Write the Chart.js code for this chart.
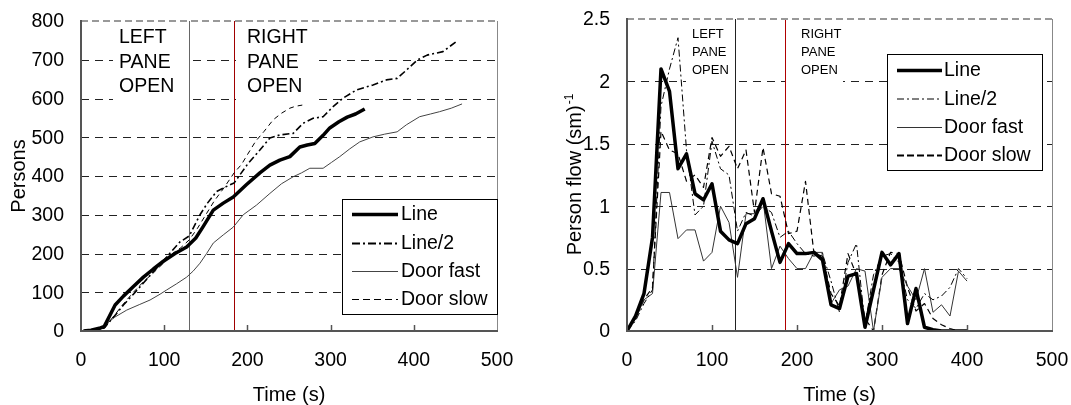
<!DOCTYPE html>
<html><head><meta charset="utf-8">
<script src="https://cdn.jsdelivr.net/npm/chart.js@4.4.1/dist/chart.umd.min.js"></script>
<style>
html,body{margin:0;padding:0;background:#fff;}
#wrap{position:relative;width:1071px;height:405px;overflow:hidden;background:#fff;}
canvas{position:absolute;top:0;}
</style></head><body>
<div id="wrap">
<canvas id="c1" width="540" height="405" style="left:0;width:540px;height:405px"></canvas>
<canvas id="c2" width="531" height="405" style="left:540px;width:531px;height:405px"></canvas>
</div>
<script>
// ---------- DATA: left chart (cumulative persons) ----------
const seriesNames = ['Line', 'Line/2', 'Door fast', 'Door slow'];

const leftLineT = [3, 12, 22, 28, 41, 51, 63, 75, 87, 99, 113, 127, 138, 147, 159, 171, 183, 199, 215, 227, 239, 251, 263, 272, 281, 291, 299, 310, 320, 330, 341];
const leftLineP = [0, 2, 7, 12, 67, 90, 115, 139, 160, 180, 200, 217, 240, 270, 312, 330, 346, 378, 408, 428, 441, 450, 475, 480, 484, 505, 524, 540, 552, 560, 573];

const leftHalfT = [8, 20, 28, 40, 51, 63, 75, 87, 103, 119, 130, 143, 152, 163, 174, 184, 200, 215, 227, 239, 255, 267, 279, 291, 303, 315, 331, 351, 367, 380, 391, 404, 416, 435, 451];
const leftHalfP = [0, 3, 8, 38, 67, 95, 124, 153, 191, 230, 245, 300, 330, 360, 372, 382, 430, 467, 498, 506, 510, 536, 549, 553, 579, 601, 622, 635, 648, 652, 673, 699, 712, 721, 747];

const leftFastT = [10, 20, 26, 40, 55, 70, 83, 95, 103, 115, 127, 135, 143, 151, 159, 171, 183, 195, 211, 227, 241, 255, 265, 275, 291, 301, 311, 323, 335, 351, 365, 380, 391, 407, 420, 431, 445, 458];
const leftFastP = [0, 3, 10, 35, 54, 68, 80, 95, 106, 122, 139, 155, 175, 200, 227, 248, 268, 300, 325, 355, 380, 398, 408, 420, 420, 435, 450, 470, 488, 501, 508, 514, 532, 553, 560, 566, 575, 586];

const leftSlowT = [8, 20, 28, 40, 51, 63, 75, 87, 99, 110, 120, 130, 140, 150, 160, 172, 184, 193, 200, 210, 220, 231, 241, 251, 258, 266];
const leftSlowP = [0, 3, 8, 40, 70, 100, 127, 150, 175, 200, 215, 235, 265, 300, 335, 370, 408, 430, 455, 490, 515, 545, 562, 575, 580, 583];

// ---------- DATA: right chart (person flow) ----------
const rightT = [0,10,20,30,40,50,60,70,80,90,100,110,120,130,140,150,160,170,180,190,200,210,220,230,240,250,260,270,280,290,300,310,320,330,340,350,360,370,380,390,400];
const rightLine = [0, .12, .30, .75, 2.10, 1.92, 1.30, 1.42, 1.10, 1.05, 1.18, 0.80, 0.73, 0.70, 0.86, 0.90, 1.06, 0.80, 0.55, 0.70, 0.62, 0.62, 0.63, 0.57, 0.21, 0.18, 0.44, 0.46, 0.03, 0.33, 0.63, 0.53, 0.62, 0.06, 0.34, 0.03, 0.01, 0, 0, 0, 0];
const rightHalf = [0, .08, .22, .33, 1.80, 2.10, 2.35, 1.45, 0.93, 1.00, 1.52, 1.30, 1.25, 0.80, 0.95, 0.92, 1.00, 0.95, 0.75, 0.80, 0.70, 0.62, 0.60, 0.62, 0.40, 0.15, 0.55, 0.70, 0.05, 0.45, 0.60, 0.62, 0.55, 0.25, 0.18, 0.30, 0.25, 0.28, 0.35, 0.50, 0.42];
const rightFast = [0, .10, .25, .30, 1.11, 1.11, 0.74, 0.81, 0.81, 0.56, 0.63, 1.00, 0.87, 0.43, 0.94, 0.94, 1.05, 0.50, 0.68, 0.58, 0.50, 0.50, 0.63, 0.63, 0.22, 0.33, 0.36, 0.50, 0.48, 0.00, 0.43, 0.50, 0.50, 0.36, 0.25, 0.50, 0.15, 0.21, 0.12, 0.48, 0.40];
const rightSlow = [0, .10, .25, .35, 1.60, 1.45, 1.42, 1.20, 1.25, 1.15, 1.55, 1.40, 1.48, 1.30, 1.45, 0.95, 1.47, 1.10, 1.08, 0.78, 0.80, 1.20, 0.62, 0.60, 0.30, 0.20, 0.62, 0.45, 0.10, 0.00, 0.45, 0.63, 0.62, 0.35, 0.16, 0.22, 0.10, 0.05, 0.02, 0.00, 0.00];

// pane-open markers (time, s)
const leftPaneTimes = [130, 184];
const rightPaneTimes = [127, 186];
const paneTexts = [['LEFT', 'PANE', 'OPEN'], ['RIGHT', 'PANE', 'OPEN']];

const xTickStep = 100;
const leftYMax = 800, leftYStep = 100;
const rightYMax = 2.5, rightYStep = 0.5;

// ---------- helpers ----------
const FONT = '"Liberation Sans", Arial, Helvetica, sans-serif';
function pts(t, v) { return t.map((x, i) => ({ x: x, y: v[i] })); }

const decor = {
  id: 'decor',
  beforeDatasetsDraw(chart, args, o) {
    const ctx = chart.ctx, a = chart.chartArea, xs = chart.scales.x, ys = chart.scales.y;
    ctx.save();
    ys.ticks.forEach(t => {
      if (t.value <= ys.min || t.value >= ys.max) return;
      const y = Math.round(ys.getPixelForValue(t.value)) + 0.5;
      ctx.beginPath(); ctx.setLineDash([8, 6]); ctx.strokeStyle = '#222'; ctx.lineWidth = 1;
      ctx.moveTo(a.left, y); ctx.lineTo(a.right, y); ctx.stroke();
    });
    o.boxes.forEach(b => { ctx.fillStyle = '#fff'; ctx.fillRect(b.x0, a.top + 1, b.x1 - b.x0, b.y1 - a.top); });
    ctx.setLineDash([]);
    ctx.font = o.annFont;
    ctx.fillStyle = '#000'; ctx.textAlign = 'left'; ctx.textBaseline = 'alphabetic';
    o.boxes.forEach((b, i) => {
      paneTexts[i].forEach((s, k) => ctx.fillText(s, b.tx, o.annBase[k]));
    });
    o.vlines.forEach(v => {
      const x = Math.round(xs.getPixelForValue(v.t)) + 0.5;
      ctx.beginPath(); ctx.strokeStyle = v.c; ctx.lineWidth = 1;
      ctx.moveTo(x, a.top); ctx.lineTo(x, a.bottom); ctx.stroke();
    });
    ctx.restore();
  },
  afterDatasetsDraw(chart, args, o) {
    const ctx = chart.ctx, a = chart.chartArea, xs = chart.scales.x, ys = chart.scales.y;
    ctx.save();
    ctx.beginPath(); ctx.setLineDash([7, 4]); ctx.strokeStyle = '#999'; ctx.lineWidth = 2;
    ctx.moveTo(a.left, a.top); ctx.lineTo(a.right, a.top); ctx.stroke();
    ctx.setLineDash([]);
    ctx.beginPath(); ctx.strokeStyle = '#888'; ctx.lineWidth = 1;
    ctx.moveTo(a.right + 0.5, a.top); ctx.lineTo(a.right + 0.5, a.bottom); ctx.stroke();
    ctx.beginPath(); ctx.strokeStyle = '#555'; ctx.lineWidth = 2;
    ctx.moveTo(a.left, a.top - 1); ctx.lineTo(a.left, a.bottom); ctx.lineTo(a.right + 1, a.bottom); ctx.stroke();
    ctx.lineWidth = 1.5;
    xs.ticks.forEach(t => {
      if (t.value <= xs.min || t.value >= xs.max) return;
      const x = Math.round(xs.getPixelForValue(t.value)) + 0.5;
      ctx.beginPath(); ctx.moveTo(x, a.bottom); ctx.lineTo(x, a.bottom - 6); ctx.stroke();
    });
    ctx.fillStyle = '#000'; ctx.font = '19.5px ' + FONT;
    ctx.textAlign = 'right'; ctx.textBaseline = 'middle';
    ys.ticks.forEach(t => ctx.fillText(String(t.value), a.left - 17, ys.getPixelForValue(t.value) + 1));
    ctx.textAlign = 'center'; ctx.textBaseline = 'alphabetic';
    xs.ticks.forEach(t => ctx.fillText(String(t.value), xs.getPixelForValue(t.value), 366));
    ctx.font = '20px ' + FONT;
    ctx.fillText('Time (s)', (a.left + a.right) / 2, 401);
    ctx.save();
    ctx.translate(o.yTitleX, (a.top + a.bottom) / 2);
    ctx.rotate(-Math.PI / 2);
    const w1 = ctx.measureText(o.yTitle).width;
    let w2 = 0;
    if (o.yTitleSup) { ctx.font = '12px ' + FONT; w2 = ctx.measureText(o.yTitleSup).width; ctx.font = '20px ' + FONT; }
    const start = -(w1 + w2) / 2;
    ctx.textAlign = 'left';
    ctx.fillText(o.yTitle, start, 0);
    if (o.yTitleSup) { ctx.font = '12px ' + FONT; ctx.fillText(o.yTitleSup, start + w1 + 1, -8); }
    ctx.restore();
    const L = o.legend;
    ctx.fillStyle = '#fff'; ctx.fillRect(L.x0, L.y0, L.x1 - L.x0, L.y1 - L.y0);
    ctx.strokeStyle = '#000'; ctx.lineWidth = 1;
    ctx.strokeRect(L.x0 + 0.5, L.y0 + 0.5, L.x1 - L.x0, L.y1 - L.y0);
    ctx.font = '19.5px ' + FONT; ctx.fillStyle = '#000'; ctx.textAlign = 'left'; ctx.textBaseline = 'middle';
    chart.data.datasets.forEach((d, i) => {
      const y = L.rows[i];
      ctx.beginPath(); ctx.strokeStyle = d.borderColor; ctx.lineWidth = d.legendWidth || d.borderWidth;
      ctx.setLineDash(d.legendDash || d.borderDash || []);
      ctx.moveTo(L.sx0, y + 0.5); ctx.lineTo(L.sx1, y + 0.5); ctx.stroke();
      ctx.setLineDash([]);
      ctx.fillText(d.label, L.tx, y + 1);
    });
    ctx.restore();
  }
};

function makeChart(id, datasets, yMax, yStep, padRight, padTop, yWidth, decorOpts) {
  return new Chart(document.getElementById(id), {
    type: 'line',
    data: { datasets: datasets },
    plugins: [decor],
    options: {
      responsive: false, animation: false, devicePixelRatio: 1,
      layout: { padding: { left: 0, top: padTop, right: padRight, bottom: 0 } },
      elements: { point: { radius: 0 }, line: { tension: 0, borderJoinStyle: 'round', fill: false } },
      scales: {
        x: { type: 'linear', min: 0, max: 500, ticks: { stepSize: xTickStep, display: false },
             grid: { display: false }, border: { display: false }, afterFit(s) { s.height = 74; } },
        y: { type: 'linear', min: 0, max: yMax, ticks: { stepSize: yStep, display: false },
             grid: { display: false }, border: { display: false }, afterFit(s) { s.width = yWidth; } }
      },
      plugins: { legend: { display: false }, tooltip: { enabled: false }, decor: decorOpts }
    }
  });
}

makeChart('c1', [
  { label: seriesNames[0], data: pts(leftLineT, leftLineP), borderColor: '#000', borderWidth: 3.5 },
  { label: seriesNames[1], data: pts(leftHalfT, leftHalfP), borderColor: '#000', borderWidth: 1.6, borderDash: [7, 3, 2, 3], legendWidth: 2.2, legendDash: [8, 3, 2, 3] },
  { label: seriesNames[2], data: pts(leftFastT, leftFastP), borderColor: '#444', borderWidth: 1 },
  { label: seriesNames[3], data: pts(leftSlowT, leftSlowP), borderColor: '#000', borderWidth: 1, borderDash: [5, 4], legendDash: [7, 4] }
], leftYMax, leftYStep, 43, 21, 81, {
  boxes: [{ x0: 113, x1: 188, y1: 100, tx: 119 }, { x0: 236, x1: 313, y1: 100, tx: 247 }],
  annFont: '19.5px ' + FONT, annBase: [43, 68, 92],
  vlines: [{ t: leftPaneTimes[0], c: '#666' }, { t: leftPaneTimes[1], c: '#a00000' }],
  yTitle: 'Persons', yTitleX: 25,
  legend: { x0: 342, x1: 497, y0: 199, y1: 314, rows: [214, 243, 271, 299], sx0: 352, sx1: 398, tx: 401 }
});

makeChart('c2', [
  { label: seriesNames[0], data: pts(rightT, rightLine), borderColor: '#000', borderWidth: 3.5 },
  { label: seriesNames[1], data: pts(rightT, rightHalf), borderColor: '#000', borderWidth: 1, borderDash: [7, 3, 2, 3] },
  { label: seriesNames[2], data: pts(rightT, rightFast), borderColor: '#333', borderWidth: 1, legendWidth: 1 },
  { label: seriesNames[3], data: pts(rightT, rightSlow), borderColor: '#000', borderWidth: 1.2, borderDash: [6, 4], legendWidth: 2, legendDash: [7, 3] }
], rightYMax, rightYStep, 19, 19, 87, {
  boxes: [{ x0: 146, x1: 195, y1: 84, tx: 152 }, { x0: 246, x1: 303, y1: 84, tx: 261 }],
  annFont: '13px ' + FONT, annBase: [38, 56, 74],
  vlines: [{ t: rightPaneTimes[0], c: '#222' }, { t: rightPaneTimes[1], c: '#b00000' }],
  yTitle: 'Person flow (sm)', yTitleSup: '-1', yTitleX: 41,
  legend: { x0: 347, x1: 502, y0: 54, y1: 170, rows: [70, 98.5, 127, 155], sx0: 357, sx1: 402, tx: 404 }
});
</script>
</body></html>
